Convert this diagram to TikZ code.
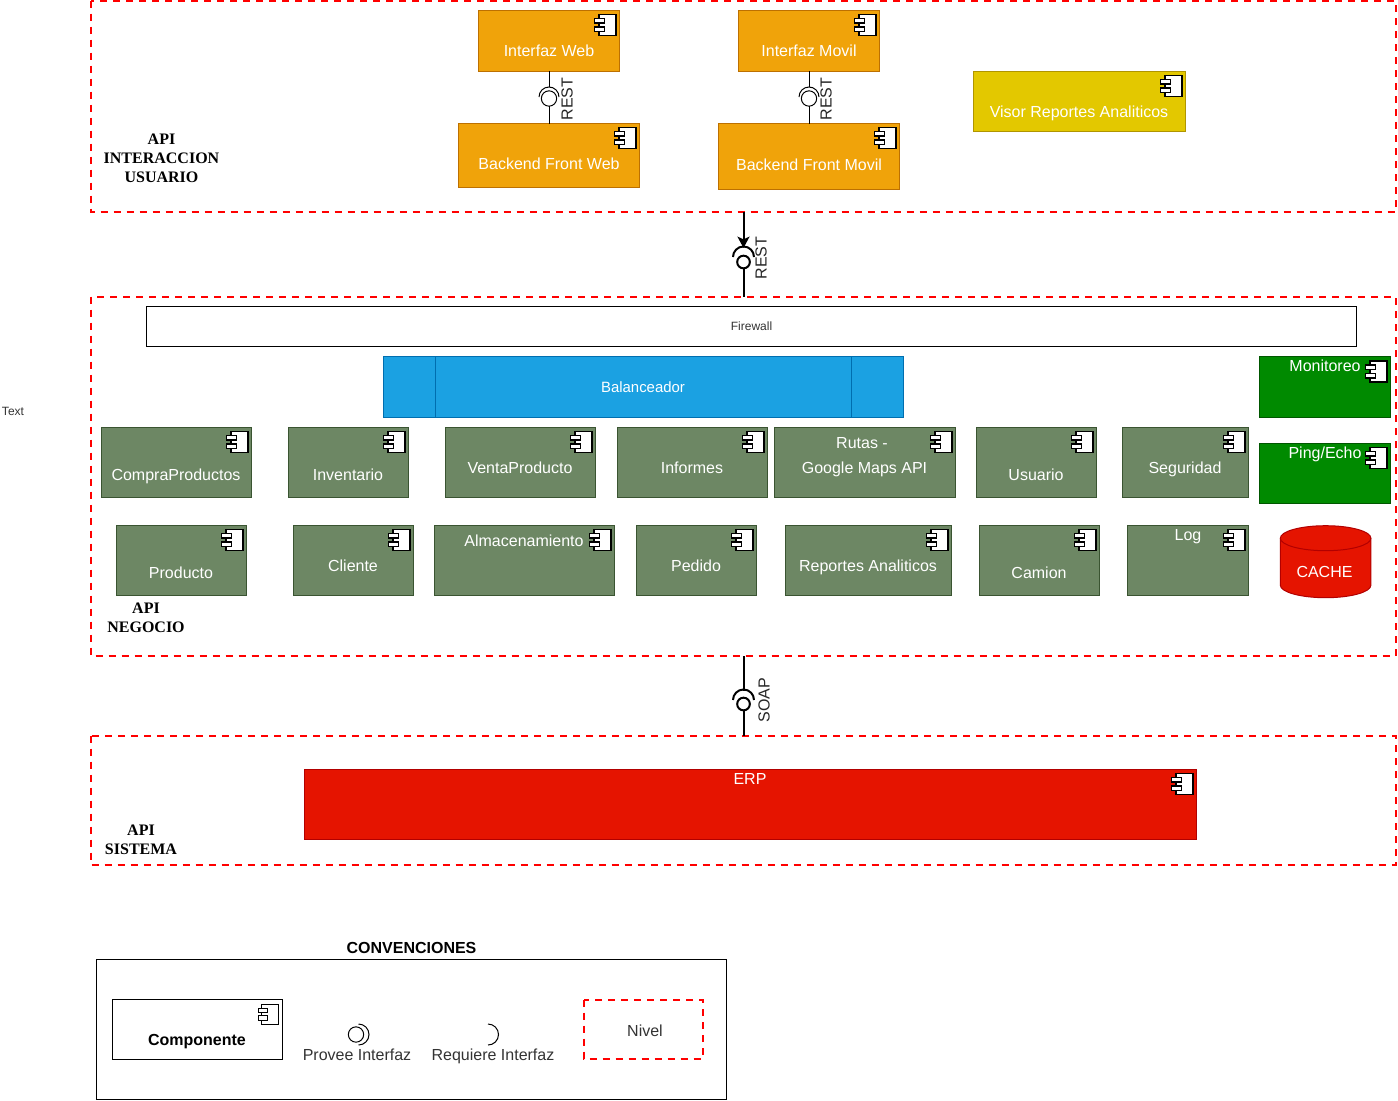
\documentclass[tikz,border=0pt]{standalone}
\usepackage{fontspec}
\setmainfont{Liberation Sans}
\newfontfamily\labfont{Liberation Serif}
\usetikzlibrary{arrows.meta}
\definecolor{orF}{HTML}{F0A30A}\definecolor{orD}{HTML}{BD7000}
\definecolor{olF}{HTML}{6D8764}\definecolor{olD}{HTML}{3A5431}
\definecolor{yeF}{HTML}{E3C800}\definecolor{yeD}{HTML}{B09500}
\definecolor{grF}{HTML}{008A00}\definecolor{grD}{HTML}{005700}
\definecolor{reF}{HTML}{E51400}\definecolor{reD}{HTML}{B20000}
\definecolor{blF}{HTML}{1BA1E2}\definecolor{blD}{HTML}{006EAF}
\tikzset{x=0.75pt,y=-0.75pt,
 every node/.style={inner sep=0pt,outer sep=0pt,font=\fontsize{12}{14}\selectfont},
 boxfill/.style={line width=0.75pt,shift={(-0.3,-0.3)}},
 orbox/.style={boxfill,fill=orF,draw=orD},
 olbox/.style={boxfill,fill=olF,draw=olD},
 yebox/.style={boxfill,fill=yeF,draw=yeD},
 grbox/.style={boxfill,fill=grF,draw=grD},
 rebox/.style={boxfill,fill=reF,draw=reD},
 blbox/.style={boxfill,fill=blF,draw=blD},
 wtext/.style={text=white,anchor=base},
 dtext/.style={text=black!80,anchor=base},
 level/.style={draw=red,line width=1.5pt,dash pattern=on 5.25pt off 4.5pt,shift={(-0.4,-0.4)}},
 leveltext/.style={font=\labfont\bfseries\fontsize{12}{14.2}\selectfont,align=center},
 rottext/.style={rotate=90,text=black!85},
 iconbody/.style={draw=black,fill=white,line width=1pt},
 wire/.style={draw=black,line width=0.75pt},
 wirebold/.style={draw=black,line width=1.5pt},
 plainbox/.style={draw=black,fill=white,line width=0.75pt,shift={(-0.3,-0.3)}},
}
% name, x1,y1,x2,y2, style
\newcommand{\compbox}[6]{\path[#6] (#2,#3) rectangle ({#4+0.7},{#5+0.7});
 \coordinate (#1-top) at ({(#2+#4)/2},#3);\coordinate (#1-bot) at ({(#2+#4)/2},#5);}
% icon with right edge x and top y
\newcommand{\compicon}[2]{%
 \path[iconbody] ({#1-16.6},#2) rectangle ({#1+0.4},{#2+21});
 \path[iconbody] ({#1-21.1},{#2+4}) rectangle ({#1-11.1},{#2+8.5});
 \path[iconbody] ({#1-21.1},{#2+12.5}) rectangle ({#1-11.1},{#2+17});}
% text: y is the centre of the capitals, baseline below
\newcommand{\boxtext}[4]{\node[wtext] (#1) at (#2,{#3+6}) {#4};}
\begin{document}
\begin{tikzpicture}
\useasboundingbox (0,0) rectangle (1398,1100);
% levels
\path[level] (91,1) rectangle (1396,212);
\path[level] (91,297) rectangle (1396,656);
\path[level] (91,736) rectangle (1396,865);
\coordinate (lvA) at (743.5,212);
\coordinate (lvB) at (743.5,297);
\coordinate (lvC) at (743.5,656);
\coordinate (lvD) at (743.5,736);
\node[dtext] (stray) at (13,415.5) {\fontsize{9}{11}\selectfont Text};
% level labels
\node[leveltext] (labA) at (161.5,158.5) {API\\INTERACCION\\USUARIO};
\node[leveltext] (labB) at (146,618) {API\\NEGOCIO};
\node[leveltext] (labC) at (141,840) {API\\SISTEMA};
% top tier
\compbox{iw}{479}{11}{619}{71}{orbox}\compicon{615.7}{14.5}\boxtext{iwt}{549}{50}{Interfaz Web}
\compbox{im}{739}{11}{879}{71}{orbox}\compicon{875.7}{14.5}\boxtext{imt}{809}{50}{Interfaz Movil}
\compbox{bw}{459}{124}{639}{187}{orbox}\compicon{635.7}{127.5}\boxtext{bwt}{549}{163}{Backend Front Web}
\compbox{bm}{719}{124}{899}{189}{orbox}\compicon{895.7}{127.5}\boxtext{bmt}{809}{164}{Backend Front Movil}
\compbox{vr}{974}{72}{1185}{131}{yebox}\compicon{1181.7}{75.5}\boxtext{vrt}{1079}{111}{Visor Reportes Analiticos}
% interfaces top
\node[circle,draw=black,line width=0.75pt,minimum size=11.5pt] (bw1) at (549,98.5) {};
\coordinate (sk1) at (549,87);
\draw[wire] (iw-bot) -- (sk1);
\draw[wire] (539,97) arc[start angle=180,end angle=360,radius=10];
\draw[wire] (bw1.south) -- (bw-top);
\node[circle,draw=black,line width=0.75pt,minimum size=11.5pt] (bm1) at (809,98.5) {};
\coordinate (sk2) at (809,87);
\draw[wire] (im-bot) -- (sk2);
\draw[wire] (799,97) arc[start angle=180,end angle=360,radius=10];
\draw[wire] (bm1.south) -- (bm-top);
\node[rottext] (r1) at (567,99) {REST};
\node[rottext] (r2) at (826,99) {REST};
% link A-B
\node[circle,draw=black,line width=1.5pt,minimum size=9.5pt] (ball1) at (743.5,262) {};
\coordinate (sk3) at (743.5,248);
\draw[wirebold,-{Stealth[length=8.5pt,width=9pt,inset=2pt]}] (lvA) -- (sk3);
\draw[wirebold] (733,257) arc[start angle=180,end angle=360,radius=10.5];
\draw[wirebold] (ball1.south) -- (lvB);
\node[rottext] (r3) at (761,258) {REST};
% link C-D
\node[circle,draw=black,line width=1.5pt,minimum size=9.5pt] (ball2) at (743.5,704) {};
\coordinate (sk4) at (743.5,691);
\draw[wirebold] (lvC) -- (sk4);
\draw[wirebold] (733,700) arc[start angle=180,end angle=360,radius=10.5];
\draw[wirebold] (ball2.south) -- (lvD);
\node[rottext] (r4) at (764,700) {SOAP};
% firewall
\path[plainbox] (147,306.5) rectangle (1356.7,346.7);
\node[dtext] (fw) at (751.5,330) {\fontsize{9}{11}\selectfont Firewall};
% balanceador
\path[blbox] (384,357) rectangle (903.7,417.7);
\draw[blD,line width=0.75pt] (435.5,357) -- (435.5,417);
\draw[blD,line width=0.75pt] (851.5,357) -- (851.5,417);
\node[wtext,font=\fontsize{11.2}{13}\selectfont] (blt) at (643,392) {Balanceador};
% monitoring
\compbox{mo}{1260}{357}{1390}{417}{grbox}\compicon{1386.7}{361}\boxtext{mot}{1325}{365}{Monitoreo}
\compbox{pe}{1260}{444}{1390}{503}{grbox}\compicon{1386.7}{447.5}\boxtext{pet}{1325}{452}{Ping/Echo}
% row 1
\compbox{cp}{102}{428}{251}{497}{olbox}\compicon{247.7}{431.5}\boxtext{cpt}{176}{474}{CompraProductos}
\compbox{in}{289}{428}{408}{497}{olbox}\compicon{404.7}{431.5}\boxtext{int}{348}{474}{Inventario}
\compbox{vp}{446}{428}{595}{497}{olbox}\compicon{591.7}{431.5}\boxtext{vpt}{520}{467}{VentaProducto}
\compbox{if}{618}{428}{767}{497}{olbox}\compicon{763.7}{431.5}\boxtext{ift}{692}{467}{Informes}
\compbox{ru}{775}{428}{955}{497}{olbox}\compicon{951.7}{431.5}\boxtext{rut}{862}{442}{Rutas -}\boxtext{rub}{864.5}{467}{Google Maps API}
\compbox{us}{977}{428}{1096}{497}{olbox}\compicon{1092.7}{431.5}\boxtext{ust}{1036}{474}{Usuario}
\compbox{se}{1123}{428}{1248}{497}{olbox}\compicon{1244.7}{431.5}\boxtext{set}{1185}{467}{Seguridad}
% row 2
\compbox{pr}{117}{526}{246}{595}{olbox}\compicon{242.7}{529.5}\boxtext{prt}{181}{572}{Producto}
\compbox{cl}{294}{526}{413}{595}{olbox}\compicon{409.7}{529.5}\boxtext{clt}{353}{565}{Cliente}
\compbox{al}{435}{526}{614}{595}{olbox}\compicon{610.7}{529.5}\boxtext{alt}{524}{540}{Almacenamiento}
\compbox{pd}{637}{526}{756}{595}{olbox}\compicon{752.7}{529.5}\boxtext{pdt}{696}{565}{Pedido}
\compbox{ra}{786}{526}{951}{595}{olbox}\compicon{947.7}{529.5}\boxtext{rat}{868}{565}{Reportes Analiticos}
\compbox{ca}{980}{526}{1099}{595}{olbox}\compicon{1095.7}{529.5}\boxtext{cat}{1039}{572}{Camion}
\compbox{lg}{1128}{526}{1248}{595}{olbox}\compicon{1244.7}{529.5}\boxtext{lgt}{1188}{534}{Log}
% cache
\path[rebox] (1280.6,538.5) -- (1280.6,585.5) arc[start angle=180,end angle=0,x radius=45.3,y radius=12.5] -- (1371.2,538.5) arc[start angle=0,end angle=-180,x radius=45.3,y radius=12.5] -- cycle;
\draw[reD,line width=0.75pt,shift={(-0.3,-0.3)}] (1280.6,538.5) arc[start angle=180,end angle=0,x radius=45.3,y radius=12.5];
\boxtext{cht}{1324.5}{571}{CACHE}
% ERP
\compbox{er}{305}{770}{1196}{839}{rebox}\compicon{1192.7}{773.5}\boxtext{ert}{750}{778}{ERP}
% legend
\node[anchor=base] (cvt) at (411.5,953) {\bfseries CONVENCIONES};
\path[draw=black,line width=0.75pt,shift={(-0.3,-0.3)}] (97,960) rectangle (726.7,1099.7);
\path[plainbox] (113,1000) rectangle (282.7,1059.7);
\path[draw=black,fill=white,line width=0.7pt] (261,1004) rectangle (278,1024);
\path[draw=black,fill=white,line width=0.7pt] (258,1008) rectangle (267,1012.5);
\path[draw=black,fill=white,line width=0.7pt] (258,1015.5) rectangle (267,1020);
\node[anchor=base] (cmp) at (197,1045) {\bfseries Componente};
\node[circle,draw=black,line width=0.75pt,minimum size=11.5pt] (pv) at (356,1034.5) {};
\draw[black,line width=0.75pt] (358.5,1024) arc[start angle=-90,end angle=90,radius=10.5];
\node[dtext] (pvt) at (357,1060) {Provee Interfaz};
\draw[black,line width=0.75pt] (488,1024) arc[start angle=-90,end angle=90,radius=10.5];
\node[dtext] (rqt) at (493,1060) {Requiere Interfaz};
\path[level] (584,1000) rectangle (703,1059);
\node[dtext] (nv) at (645,1036) {Nivel};
\end{tikzpicture}
\end{document}
